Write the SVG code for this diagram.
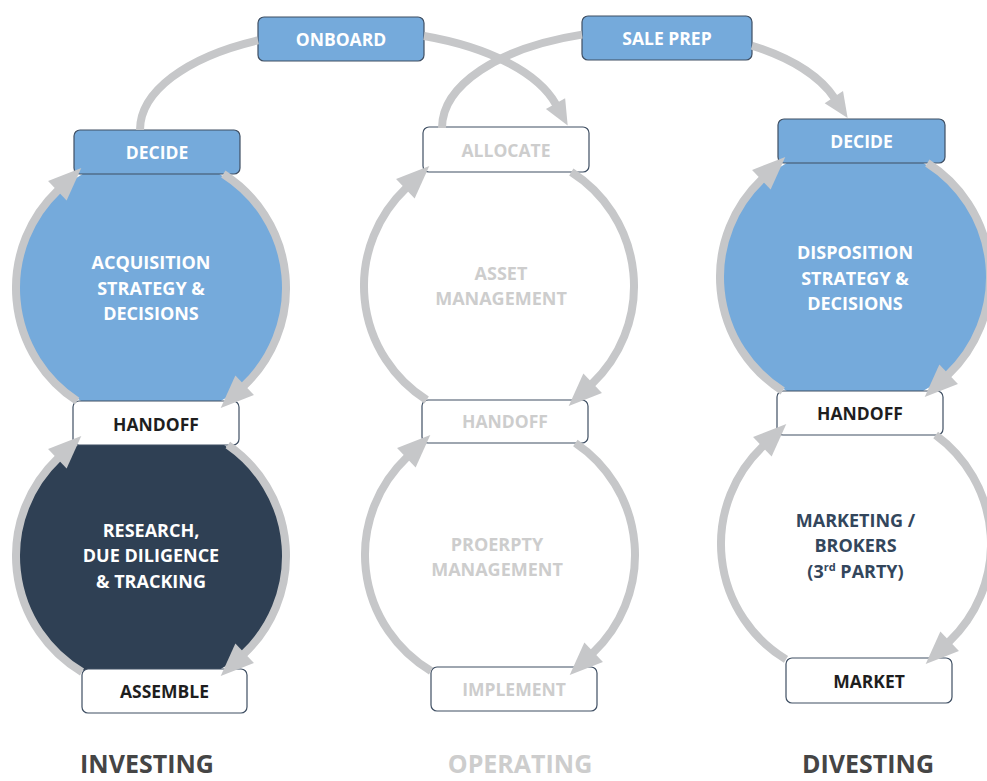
<svg xmlns="http://www.w3.org/2000/svg" width="987" height="781" viewBox="0 0 987 781">
<style>
.box{stroke:#3F4F63;stroke-width:1.2}
.blue{fill:#75AADB}
.white{fill:#FFFFFF}
.navy{fill:#2F4054}
.t{font-family:"Open Sans","Liberation Sans",sans-serif;font-weight:700;font-size:17.5px;text-anchor:middle}
.c{font-size:18px}
.big{font-size:25px}
.tw{fill:#FFFFFF}
.tk{fill:#1E1E1E}
.tg{fill:#CDCDCD}
.tn{fill:#33465C}
.td{fill:#454545}
.ring{fill:none;stroke:#C6C7C9;stroke-width:8}
.ar{marker-end:url(#ahR)}
.at{marker-end:url(#ahT)}
</style>
<defs>
<marker id="ahR" markerUnits="userSpaceOnUse" viewBox="-2 -14 36 28" markerWidth="36" markerHeight="28" refX="0" refY="0" orient="auto"><path d="M-1,-13.5 L32,0 L-1,13.5 Z" fill="#C6C7C9"/></marker>
<marker id="ahT" markerUnits="userSpaceOnUse" viewBox="-2 -12 28 24" markerWidth="28" markerHeight="24" refX="0" refY="0" orient="auto"><path d="M-1,-11 L24,0 L-1,11 Z" fill="#C6C7C9"/></marker>
</defs>

<!-- circle nodes -->
<g id="acquisition">
<circle cx="151" cy="288" r="133" class="blue"/>
<text class="t c tw" x="151" y="269">ACQUISITION</text>
<text class="t c tw" x="151" y="295">STRATEGY &amp;</text>
<text class="t c tw" x="151" y="320">DECISIONS</text>
</g>
<g id="research">
<circle cx="151" cy="556" r="133" class="navy"/>
<text class="t c tw" x="151" y="537">RESEARCH,</text>
<text class="t c tw" x="151" y="562">DUE DILIGENCE</text>
<text class="t c tw" x="151" y="588">&amp; TRACKING</text>
</g>
<g id="asset-management">
<circle cx="499" cy="286" r="133" class="white"/>
<text class="t c tg" x="501" y="280">ASSET</text>
<text class="t c tg" x="501" y="305">MANAGEMENT</text>
</g>
<g id="property-management">
<circle cx="500" cy="555" r="133" class="white"/>
<text class="t c tg" x="497" y="551">PROERPTY</text>
<text class="t c tg" x="497" y="576">MANAGEMENT</text>
</g>
<g id="disposition">
<circle cx="855" cy="277" r="133" class="blue"/>
<text class="t c tw" x="855" y="259">DISPOSITION</text>
<text class="t c tw" x="855" y="285">STRATEGY &amp;</text>
<text class="t c tw" x="855" y="310">DECISIONS</text>
</g>
<g id="marketing">
<circle cx="856" cy="544" r="133" class="white"/>
<text class="t c tn" x="855.5" y="527">MARKETING /</text>
<text class="t c tn" x="855.5" y="552">BROKERS</text>
<text class="t c tn" x="855.5" y="578">(3<tspan font-size="11" dy="-7">rd</tspan><tspan dy="7"> PARTY)</tspan></text>
</g>

<!-- box nodes -->
<g id="decide-invest">
<rect x="74" y="130" width="166" height="44" rx="6" class="box blue"/>
<text class="t tw" x="157" y="159">DECIDE</text>
</g>
<g id="handoff-invest">
<rect x="73" y="401" width="166" height="44" rx="6" class="box white"/>
<text class="t tk" x="156" y="430.5">HANDOFF</text>
</g>
<g id="assemble">
<rect x="82" y="669" width="165" height="44" rx="6" class="box white"/>
<text class="t tk" x="164.5" y="698">ASSEMBLE</text>
</g>
<g id="onboard">
<rect x="258" y="17" width="166" height="44" rx="6" class="box blue"/>
<text class="t tw" x="341" y="46">ONBOARD</text>
</g>
<g id="sale-prep">
<rect x="582" y="16" width="170" height="44" rx="6" class="box blue"/>
<text class="t tw" x="667" y="45">SALE PREP</text>
</g>
<g id="allocate">
<rect x="423" y="127" width="166" height="45" rx="6" class="box white"/>
<text class="t tg" x="506" y="156.5">ALLOCATE</text>
</g>
<g id="handoff-operate">
<rect x="422" y="400" width="166" height="43" rx="6" class="box white"/>
<text class="t tg" x="505" y="428">HANDOFF</text>
</g>
<g id="implement">
<rect x="431" y="667" width="166" height="44" rx="6" class="box white"/>
<text class="t tg" x="514" y="696">IMPLEMENT</text>
</g>
<g id="decide-divest">
<rect x="778" y="119" width="167" height="44" rx="6" class="box blue"/>
<text class="t tw" x="861.5" y="148">DECIDE</text>
</g>
<g id="handoff-divest">
<rect x="777" y="391" width="166" height="44" rx="6" class="box white"/>
<text class="t tk" x="860" y="420">HANDOFF</text>
</g>
<g id="market">
<rect x="786" y="658" width="166" height="45" rx="6" class="box white"/>
<text class="t tk" x="869" y="687.5">MARKET</text>
</g>

<!-- connectors -->
<g id="connectors">
<path class="ring ar" d="M223.31,174 A135,135 0 0 1 243.93,385.93"/>
<path class="ring ar" d="M77.14,401 A135,135 0 0 1 58.07,190.07"/>
<path class="ring ar" d="M227.84,445 A135,135 0 0 1 243.93,653.93"/>
<path class="ring ar" d="M82,672.03 A135,135 0 0 1 58.07,458.07"/>
<path class="ring ar" d="M571.31,172 A135,135 0 0 1 591.93,383.93"/>
<path class="ring ar" d="M426.69,400 A135,135 0 0 1 406.07,188.07"/>
<path class="ring ar" d="M575.37,443 A135,135 0 0 1 592.93,652.93"/>
<path class="ring ar" d="M431,671.03 A135,135 0 0 1 407.07,457.07"/>
<path class="ring ar" d="M927.31,163 A135,135 0 0 1 947.93,374.93"/>
<path class="ring ar" d="M782.69,391 A135,135 0 0 1 762.07,179.07"/>
<path class="ring ar" d="M935.65,435 A135,135 0 0 1 948.93,641.93"/>
<path class="ring ar" d="M786,659.43 A135,135 0 0 1 763.07,446.07"/>
<path class="ring" d="M140,130 A211.5,100 0 0 1 258,40.3"/>
<path class="ring at" d="M424,36.06 A211.5,100 0 0 1 556,104.5"/>
<path class="ring" d="M442,128 A201,98 0 0 1 582,34.6"/>
<path class="ring at" d="M752,45.7 A201,98 0 0 1 834.4,98"/>
</g>

<!-- column labels -->
<text class="t big td" x="147" y="773">INVESTING</text>
<text class="t big tg" x="520" y="773">OPERATING</text>
<text class="t big td" x="868" y="773">DIVESTING</text>
</svg>
